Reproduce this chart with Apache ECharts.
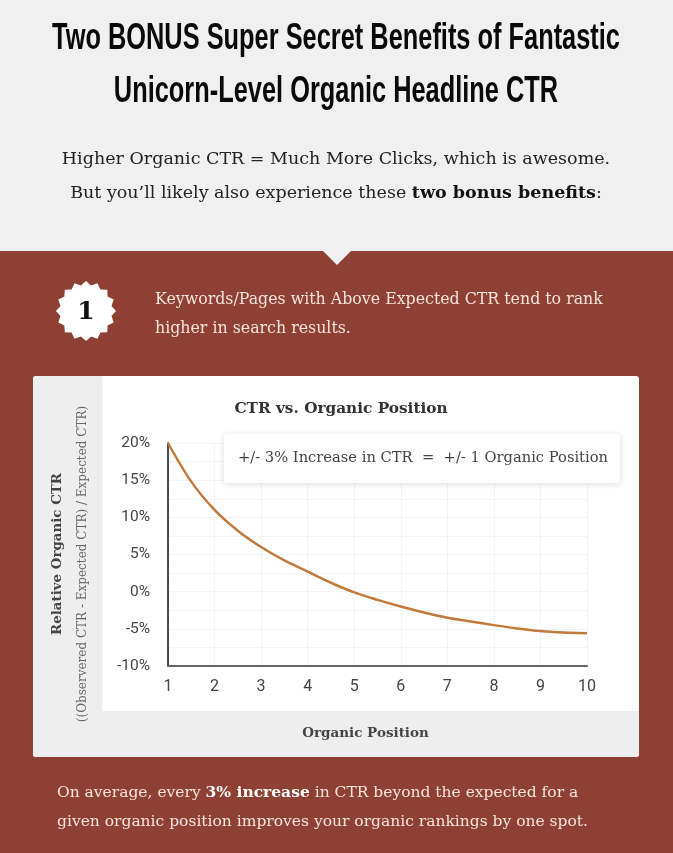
<!DOCTYPE html>
<html>
<head>
<meta charset="utf-8">
<style>html,body{margin:0;padding:0;background:#8e4035}#c{width:673px;height:853px}</style>
<script src="https://cdn.jsdelivr.net/npm/echarts@6/dist/echarts.min.js"></script>
</head>
<body>
<div id="c"></div>
<script>
const positions = [1, 1.5, 2, 2.5, 3, 3.5, 4, 4.5, 5, 5.5, 6, 6.5, 7, 7.5, 8, 8.5, 9, 9.5, 10];
const relativeCtr = [20, 14.8, 11, 8.2, 6, 4.2, 2.7, 1.2, -0.1, -1.1, -2, -2.8, -3.5, -4, -4.5, -4.95, -5.3, -5.5, -5.6];
const serif = '"DejaVu Serif",serif';
const sans = '"Liberation Sans",sans-serif';
const red = '#8e4035', cream = '#f3e4dc', ink = '#222';

function burst(cx, cy, R, r, n) {
  const pts = [];
  for (let i = 0; i < n * 2; i++) {
    const a = Math.PI * i / n - Math.PI / 2, d = i % 2 ? r : R;
    pts.push([cx + d * Math.cos(a), cy + d * Math.sin(a)]);
  }
  return pts;
}
const T = (x, y, text, font, fill, align, el) => Object.assign({
  type: 'text', x, y, z: 10,
  style: { text, font, fill, align: align || 'center', verticalAlign: 'middle' }
}, el);

const chart = echarts.init(document.getElementById('c'), null, { renderer: 'canvas' });
chart.setOption({
  animation: false,
  backgroundColor: red,
  title: {
    text: 'CTR vs. Organic Position', left: 336, top: 397, textAlign: 'center',
    textStyle: { fontFamily: serif, fontSize: 15.3, fontWeight: 'bold', color: '#333' }
  },
  grid: { left: 168, top: 443, width: 419, height: 223 },
  xAxis: {
    type: 'value', min: 1, max: 10, interval: 1,
    name: 'Organic Position', nameLocation: 'middle', nameGap: 60,
    nameTextStyle: { fontFamily: serif, fontSize: 13.5, fontWeight: 'bold', color: '#444', padding: [0, 24, 0, 0] },
    axisLine: { show: true, onZero: false, lineStyle: { color: '#666', width: 2 } },
    axisTick: { show: false },
    axisLabel: { margin: 13, fontFamily: 'Roboto', fontSize: 16, color: '#444' },
    splitLine: { show: true, lineStyle: { color: '#f1f3f5', width: 1 } }
  },
  yAxis: {
    type: 'value', min: -10, max: 20, interval: 2.5,
    axisLine: { show: true, onZero: false, lineStyle: { color: '#111', width: 1.5 } },
    axisTick: { show: false },
    axisLabel: {
      margin: 18, fontFamily: 'Roboto', fontSize: 15.5, color: '#444',
      formatter: v => (v % 5 === 0 ? v + '%' : '')
    },
    splitLine: { show: true, lineStyle: { color: '#f1f3f5', width: 1 } }
  },
  series: [{
    type: 'line', smooth: 0.33, symbol: 'none', z: 5,
    lineStyle: { color: '#c27a3c', width: 2.5 },
    data: positions.map((p, i) => [p, relativeCtr[i]])
  }],
  graphic: [
    { type: 'rect', z: -100, shape: { x: 0, y: 0, width: 673, height: 251 }, style: { fill: '#f0f0f0' } },
    { type: 'polygon', z: -99, shape: { points: [[323, 251], [351, 251], [337, 265]] }, style: { fill: '#f0f0f0' } },
    { type: 'rect', z: -98, shape: { x: 33, y: 376, width: 606, height: 381, r: 3 }, style: { fill: '#fff' } },
    { type: 'rect', z: -97, shape: { x: 33, y: 376, width: 69.5, height: 381, r: [3, 0, 0, 3] }, style: { fill: '#eeeeee' } },
    { type: 'rect', z: -97, shape: { x: 33, y: 711, width: 606, height: 46, r: [0, 0, 3, 3] }, style: { fill: '#eeeeee' } },

    T(336, 39, 'Two BONUS Super Secret Benefits of Fantastic', 'bold 37px ' + sans, '#0a0a0a', 'center', { scaleX: 0.686 }),
    T(336, 92, 'Unicorn-Level Organic Headline CTR', 'bold 37px ' + sans, '#0a0a0a', 'center', { scaleX: 0.686 }),
    T(336, 159, 'Higher Organic CTR = Much More Clicks, which is awesome.', '17.5px ' + serif, ink),
    {
      type: 'text', x: 336, y: 193, z: 10,
      style: {
        text: '{n|But you\u2019ll likely also experience these }{b|two bonus benefits}{n|:}',
        align: 'center', verticalAlign: 'middle',
        rich: {
          n: { fontFamily: serif, fontSize: 17.5, fill: ink },
          b: { fontFamily: serif, fontSize: 17.5, fontWeight: 'bold', fill: '#111' }
        }
      }
    },

    { type: 'polygon', z: 10, shape: { points: burst(86, 311, 30, 26, 16) }, style: { fill: '#fff' } },
    T(86, 312, '1', 'bold 25px ' + serif, '#111'),
    T(155, 300, 'Keywords/Pages with Above Expected CTR tend to rank', '15.8px ' + serif, cream, 'left'),
    T(155, 329, 'higher in search results.', '15.8px ' + serif, cream, 'left'),

    { type: 'rect', z: 8, shape: { x: 224, y: 434, width: 396, height: 49, r: 2 },
      style: { fill: '#fff', shadowBlur: 6, shadowColor: 'rgba(0,0,0,0.14)', shadowOffsetY: 1 } },
    T(423, 458, '+/- 3% Increase in CTR  =  +/- 1 Organic Position', '14.7px ' + serif, '#444'),

    T(58, 554, 'Relative Organic CTR', 'bold 13.4px ' + serif, '#444', 'center', { rotation: Math.PI / 2 }),
    T(83, 564, '((Observered CTR - Expected CTR) / Expected CTR)', '12px ' + serif, '#666', 'center', { rotation: Math.PI / 2 }),

    {
      type: 'text', x: 57, y: 793, z: 10,
      style: {
        text: '{n|On average, every }{b|3% increase}{n| in CTR beyond the expected for a}',
        align: 'left', verticalAlign: 'middle',
        rich: {
          n: { fontFamily: serif, fontSize: 15.5, fill: cream },
          b: { fontFamily: serif, fontSize: 15.5, fontWeight: 'bold', fill: '#fff' }
        }
      }
    },
    T(57, 822, 'given organic position improves your organic rankings by one spot.', '15.5px ' + serif, cream, 'left')
  ]
});
</script>
</body>
</html>
